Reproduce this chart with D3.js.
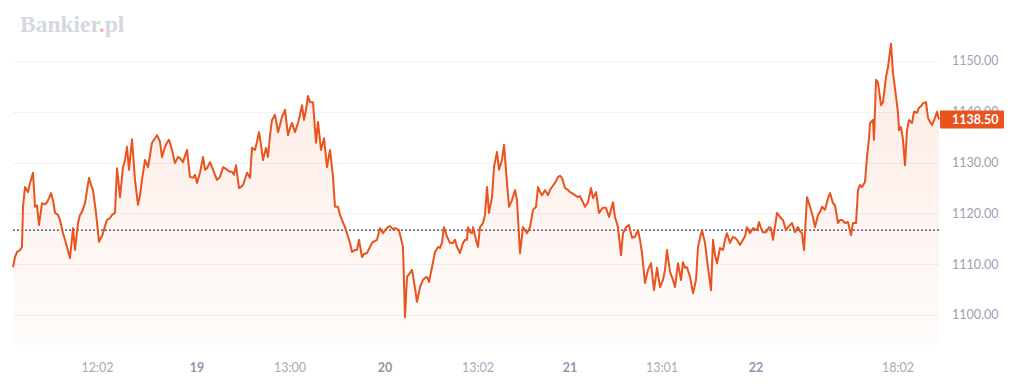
<!DOCTYPE html>
<html><head><meta charset="utf-8">
<script src="https://cdn.jsdelivr.net/npm/d3@7"></script>
<style>html,body{margin:0;padding:0;background:#fff;}svg{display:block;}</style>
</head><body>
<svg id="c" width="1024" height="389"></svg>
<script>
const times = [0,2,4,7,9,10,12,15,17,20,22,24,26,29,32,34,36,38,40,42,45,47,50,52,54,57,60,62,65,67,69,72,74,76,78,80,83,86,88,90,92,94,97,99,102,104,107,110,112,114,116,119,122,125,127,129,132,135,137,139,142,144,147,149,152,154,156,159,162,165,167,170,174,177,180,182,184,187,190,192,194,197,200,202,204,207,210,214,217,219,221,223,226,228,230,234,237,239,242,244,246,248,250,253,255,257,259,262,265,267,269,272,275,277,279,282,285,287,289,291,293,295,297,300,303,305,308,311,314,317,320,322,325,327,329,332,335,337,339,342,344,346,349,351,354,357,359,362,364,367,370,372,375,377,380,382,384,386,389,390,392,394,397,399,402,404,407,410,412,414,416,419,422,425,427,429,431,434,437,440,442,444,447,450,452,454,455,457,459,460,463,465,467,470,472,474,476,479,481,484,486,489,491,494,496,499,502,504,507,510,512,514,517,520,523,525,527,529,532,535,537,539,542,545,547,549,552,555,557,559,562,565,567,569,572,575,578,580,583,586,588,590,593,596,598,600,602,605,608,610,613,616,619,622,625,627,629,632,635,638,641,644,647,650,652,654,657,660,662,665,668,670,672,674,677,680,683,685,687,689,692,695,698,700,702,704,707,710,712,714,717,720,722,724,727,730,732,734,737,740,744,746,748,750,753,756,758,760,764,767,770,773,775,777,779,782,785,787,789,791,794,797,800,802,805,807,809,812,815,817,820,822,825,827,829,832,835,838,840,843,845,847,849,852,854,856,857,860,861,863,865,868,870,873,875,878,880,883,885,886,888,890,892,894,896,899,901,904,906,908,910,913,915,917,919,922,924,926];
const prices = [1109.4,1111.4,1112.4,1112.8,1113.4,1121.3,1125.2,1124.2,1126.0,1128.0,1121.3,1121.6,1117.7,1122.0,1121.8,1122.2,1123.0,1124.0,1122.6,1120.1,1119.7,1118.7,1116.1,1114.8,1113.4,1111.2,1117.1,1112.8,1118.1,1119.7,1120.3,1122.0,1124.6,1127.0,1125.6,1124.6,1120.1,1114.4,1115.2,1116.1,1117.5,1118.7,1119.1,1119.7,1120.1,1128.9,1123.2,1129.1,1130.5,1133.1,1128.6,1134.6,1126.6,1121.7,1123.6,1126.6,1130.5,1129.1,1131.5,1133.9,1134.8,1135.4,1134.1,1131.1,1133.1,1133.9,1134.5,1132.5,1129.9,1131.1,1130.9,1130.1,1132.5,1127.2,1127.0,1127.6,1126.0,1128.0,1131.1,1128.6,1128.9,1130.1,1128.6,1127.6,1126.6,1127.2,1129.1,1128.6,1128.2,1128.2,1127.6,1129.5,1125.0,1125.2,1125.6,1128.0,1127.0,1132.9,1132.5,1134.1,1136.0,1133.5,1130.5,1132.9,1131.1,1135.4,1138.4,1139.4,1136.0,1137.4,1139.0,1140.4,1135.4,1136.8,1137.8,1136.0,1137.8,1139.4,1141.3,1138.4,1140.4,1143.1,1141.9,1141.9,1133.9,1138.0,1132.5,1134.8,1129.1,1132.5,1127.2,1121.3,1121.3,1119.7,1118.7,1117.3,1115.4,1114.2,1112.4,1112.8,1112.8,1114.8,1111.4,1112.0,1112.2,1113.4,1114.2,1114.6,1114.8,1117.1,1116.1,1116.7,1117.3,1117.5,1116.9,1117.1,1116.9,1116.7,1114.2,1113.4,1099.6,1107.5,1108.3,1108.9,1105.3,1102.6,1105.5,1106.9,1107.3,1107.5,1106.5,1109.4,1112.4,1113.4,1113.2,1114.2,1117.3,1115.4,1114.2,1114.2,1114.8,1113.4,1112.2,1114.2,1114.8,1114.8,1117.3,1116.3,1116.1,1117.3,1114.8,1113.4,1117.3,1118.1,1119.7,1125.2,1120.1,1123.2,1129.1,1132.1,1128.6,1130.5,1133.5,1126.0,1121.3,1122.6,1124.6,1122.6,1112.2,1117.3,1116.7,1116.1,1117.3,1120.7,1121.3,1125.2,1124.2,1123.6,1124.6,1123.6,1124.6,1125.2,1126.0,1127.2,1127.4,1127.0,1125.0,1124.6,1124.2,1124.0,1123.6,1123.2,1123.4,1122.6,1121.3,1122.2,1125.0,1123.0,1124.2,1120.1,1120.7,1121.1,1121.1,1119.3,1120.7,1122.2,1119.3,1117.3,1111.8,1116.1,1117.3,1117.7,1115.2,1115.4,1116.7,1114.8,1112.2,1106.3,1108.9,1110.2,1104.9,1109.3,1105.5,1106.9,1108.9,1112.8,1108.5,1106.9,1105.5,1110.2,1106.9,1110.4,1109.3,1109.4,1107.5,1104.3,1106.9,1113.4,1115.2,1116.7,1114.2,1109.4,1104.9,1114.8,1111.8,1110.2,1113.2,1112.8,1114.8,1116.1,1114.2,1115.4,1115.2,1114.8,1113.8,1114.8,1115.5,1117.3,1116.1,1117.1,1116.7,1118.3,1117.1,1116.3,1116.3,1117.3,1117.1,1114.8,1120.1,1119.3,1118.7,1116.7,1117.3,1117.7,1118.1,1116.3,1117.3,1116.5,1116.1,1112.8,1123.2,1121.3,1119.3,1117.3,1119.7,1120.3,1121.3,1120.7,1123.0,1124.0,1122.0,1121.6,1118.1,1118.7,1118.7,1118.1,1118.3,1115.7,1118.1,1118.1,1124.6,1125.6,1125.2,1126.2,1131.1,1134.8,1137.8,1138.4,1134.5,1146.3,1145.7,1141.3,1141.9,1146.9,1148.8,1153.4,1147.6,1143.1,1139.8,1136.4,1137.0,1134.5,1129.5,1136.4,1138.4,1137.8,1140.0,1139.8,1140.8,1141.1,1141.7,1141.9,1138.8,1138.0,1137.4,1138.8,1140.0,1138.5];
const yTicks = [1100,1110,1120,1130,1140,1150];
const xTickPos = [84.5,184,277,372,465,557,649,743,885];
const xTickLabels = ["12:02","19","13:00","20","13:02","21","13:01","22","18:02"];
const xTickIsDay = [false,true,false,true,false,true,false,true,false];
const refValue = 1116.7;
const lastValue = 1138.50;

const data = times.map((t,i)=>({t, v: prices[i]}));
const svg = d3.select("#c");
const x = d3.scaleLinear().domain([0, 926]).range([13, 939]);
const y = d3.scaleLinear().domain([1094.1, 1156.1]).range([345, 30]);
const lineColor = "#e8531e";

// logo
const logo = svg.append("text").attr("x",20).attr("y",32)
  .attr("font-family","Liberation Serif, serif").attr("font-weight","bold")
  .attr("font-size",23.5).attr("fill","#d4d8df");
logo.append("tspan").text("Bankier");
logo.append("tspan").attr("fill","#f6b39c").text(".");
logo.append("tspan").text("pl");

// grid
svg.append("g").selectAll("line").data(yTicks).join("line")
  .attr("x1",x(0)).attr("x2",x(926))
  .attr("y1",d=>Math.round(y(d))+0.5).attr("y2",d=>Math.round(y(d))+0.5)
  .attr("stroke","#f1f1f3").attr("stroke-width",1);

// gradient
const defs = svg.append("defs");
const grad = defs.append("linearGradient").attr("id","g1")
  .attr("x1",0).attr("y1",0).attr("x2",0).attr("y2",1);
grad.append("stop").attr("offset","0%").attr("stop-color",lineColor).attr("stop-opacity",0.12);
grad.append("stop").attr("offset","100%").attr("stop-color",lineColor).attr("stop-opacity",0.02);

const area = d3.area().x(d=>x(d.t)).y0(y.range()[0]).y1(d=>y(d.v));
svg.append("path").datum(data).attr("d",area).attr("fill","url(#g1)");

// reference line
svg.append("line").attr("x1",x(0)).attr("x2",x(926))
  .attr("y1",y(refValue)).attr("y2",y(refValue))
  .attr("stroke","#34405a").attr("stroke-width",1.3).attr("stroke-dasharray","2,2");

const line = d3.line().x(d=>x(d.t)).y(d=>y(d.v));
svg.append("path").datum(data).attr("d",line).attr("fill","none")
  .attr("stroke",lineColor).attr("stroke-width",2).attr("stroke-linejoin","round");

// y axis labels
svg.append("g").selectAll("text").data(yTicks).join("text")
  .attr("x",952).attr("y",d=>y(d)).attr("dy","0.35em")
  .attr("font-family","Lato, sans-serif").attr("font-size",12.5)
  .attr("fill","#9aa2b3").text(d=>d.toFixed(2));

// price tag (covers the 1140.00 label as in the reference)
const tagY = y(lastValue);
svg.append("rect").attr("x",940).attr("y",tagY-9).attr("width",64).attr("height",18)
  .attr("fill",lineColor).attr("rx",1);
svg.append("text").attr("x",952).attr("y",tagY).attr("dy","0.35em")
  .attr("font-family","Lato, sans-serif").attr("font-size",12.5).attr("font-weight","bold")
  .attr("fill","#fff").text(lastValue.toFixed(2));

// x axis labels
svg.append("g").selectAll("text").data(xTickPos).join("text")
  .attr("x",d=>x(d)).attr("y",368).attr("dy","0.35em").attr("text-anchor","middle")
  .attr("font-family","Lato, sans-serif").attr("font-size",12.5)
  .attr("font-weight",(d,i)=>xTickIsDay[i]?"bold":"normal")
  .attr("fill",(d,i)=>xTickIsDay[i]?"#8e97a9":"#a3abbb")
  .text((d,i)=>xTickLabels[i]);
</script>
</body></html>
